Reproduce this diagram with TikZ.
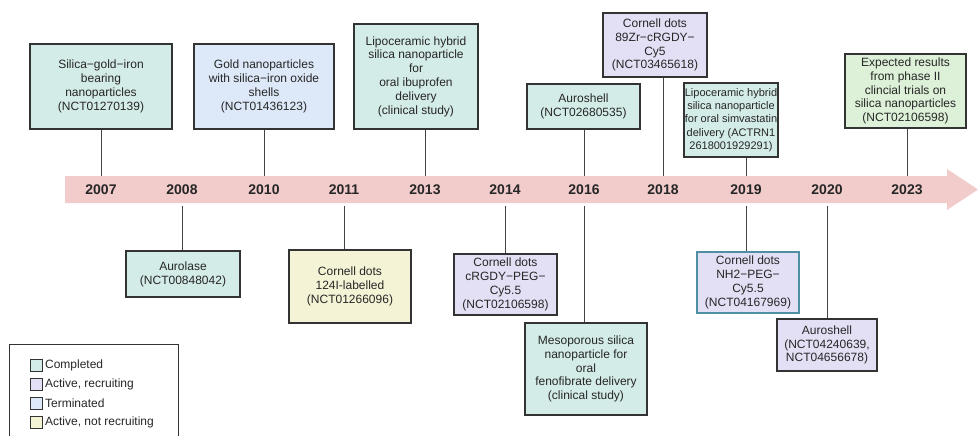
\documentclass[tikz,border=0pt]{standalone}
\usepackage{fontspec}
\setmainfont{Liberation Sans}
\usetikzlibrary{calc}
\definecolor{bandpink}{HTML}{F2CBCB}
\definecolor{complete}{HTML}{D4ECE8}
\definecolor{recruit}{HTML}{E3E0F5}
\definecolor{stopped}{HTML}{DDE9F8}
\definecolor{notrecruit}{HTML}{F5F3D6}
\definecolor{expect}{HTML}{DDF0D8}
\definecolor{boxgray}{HTML}{333333}
\definecolor{stemgray}{HTML}{444444}
\definecolor{txtgray}{HTML}{262626}
\definecolor{tealrim}{HTML}{4F8FA3}

\begin{document}
\begin{tikzpicture}[x=1pt,y=-1pt,
    trial/.style={draw=boxgray,line width=1.1pt,align=center,inner sep=2pt,
      text=txtgray,font=\fontsize{12}{13.8}\selectfont},
    stem/.style={draw=stemgray,line width=1pt},
    year/.style={font=\bfseries\fontsize{14}{16}\selectfont,text=txtgray},
    key/.style={draw=boxgray,line width=0.8pt,minimum size=12pt,inner sep=0pt},
    keytext/.style={right,text=txtgray,font=\fontsize{12}{14}\selectfont,inner sep=2pt}]
  \useasboundingbox (0,0) rectangle (978,436);
  % --- time axis
  \fill[bandpink] (65,176) -- (947,176) -- (947,169) -- (978,189.5)
    -- (947,210) -- (947,203) -- (65,203) -- cycle;
  \coordinate (axtop) at (0,176);
  \coordinate (axbot) at (0,206);
  \foreach \yr/\x in {2007/101,2008/182,2010/264,2011/344,2013/425,2014/505,
      2016/584,2018/663,2019/746,2020/827,2023/907}
    {\node[year] (y\yr) at (\x,189.5) {\yr};}
  % --- trials above the axis
  \node[trial,fill=complete,minimum width=142pt,minimum height=85pt] (silgold) at (101,86.5)
    {Silica−gold−iron\\bearing\\nanoparticles\\(NCT01270139)};
  \node[trial,fill=stopped,minimum width=140pt,minimum height=85pt] (goldnp) at (264,86.5)
    {Gold nanoparticles\\with silica−iron oxide\\shells\\(NCT01436123)};
  \node[trial,fill=complete,minimum width=124pt,minimum height=105pt] (ibupro) at (416,76.5)
    {Lipoceramic hybrid\\silica nanoparticle\\for\\oral ibuprofen\\delivery\\(clinical study)};
  \node[trial,fill=complete,minimum width=113pt,minimum height=45pt] (auro16) at (583.5,106.5)
    {Auroshell\\(NCT02680535)};
  \node[trial,fill=recruit,minimum width=104pt,minimum height=64pt] (zrdots) at (655,45)
    {Cornell dots\\89Zr−cRGDY−\\Cy5\\(NCT03465618)};
  \node[trial,fill=complete,minimum width=94pt,minimum height=74pt,inner sep=0.5pt,
    font=\fontsize{11}{13.4}\selectfont] (simva) at (731,120)
    {Lipoceramic hybrid\\silica nanoparticle\\for oral simvastatin\\delivery (ACTRN1\\2618001929291)};
  \node[trial,fill=expect,minimum width=121pt,minimum height=74pt] (phase2) at (905.5,91)
    {Expected results\\from phase II\\clincial trials on\\silica nanoparticles\\(NCT02106598)};
  \foreach \b/\yr in {silgold/2007,goldnp/2010,ibupro/2013,auro16/2016,
      zrdots/2018,simva/2019,phase2/2023}
    {\draw[stem] (y\yr |- \b.south) -- (y\yr |- axtop);}
  % --- trials below the axis
  \node[trial,fill=complete,minimum width=114pt,minimum height=46pt] (aurolase) at (183,274)
    {Aurolase\\(NCT00848042)};
  \node[trial,fill=notrecruit,minimum width=122pt,minimum height=73pt] (iodots) at (350,286.5)
    {Cornell dots\\124I-labelled\\(NCT01266096)};
  \node[trial,fill=recruit,minimum width=103pt,minimum height=61pt] (rgdots) at (505.5,284.5)
    {Cornell dots\\cRGDY−PEG−\\Cy5.5\\(NCT02106598)};
  \node[trial,fill=complete,minimum width=122pt,minimum height=92pt] (meso) at (586,369)
    {Mesoporous silica\\nanoparticle for\\oral\\fenofibrate delivery\\(clinical study)};
  \node[trial,fill=recruit,draw=tealrim,minimum width=102pt,minimum height=61pt] (nhdots) at (748,282.5)
    {Cornell dots\\NH2−PEG−\\Cy5.5\\(NCT04167969)};
  \node[trial,fill=recruit,minimum width=100pt,minimum height=52pt] (auro20) at (827,345)
    {Auroshell\\(NCT04240639,\\NCT04656678)};
  \foreach \b/\yr in {aurolase/2008,iodots/2011,rgdots/2014,meso/2016,
      nhdots/2019,auro20/2020}
    {\draw[stem] (y\yr |- axbot) -- (y\yr |- \b.north);}
  % --- legend
  \draw[boxgray,line width=0.8pt] (9,344) rectangle (178,446);
  \foreach \c/\t/\y in {complete/Completed/365,recruit/{Active, recruiting}/384,
      stopped/Terminated/403,notrecruit/{Active, not recruiting}/422}
    {\node[key,fill=\c] (k\y) at (36.5,\y) {};
     \node[keytext] (t\y) at (k\y.east) {\t};}
\end{tikzpicture}
\end{document}
